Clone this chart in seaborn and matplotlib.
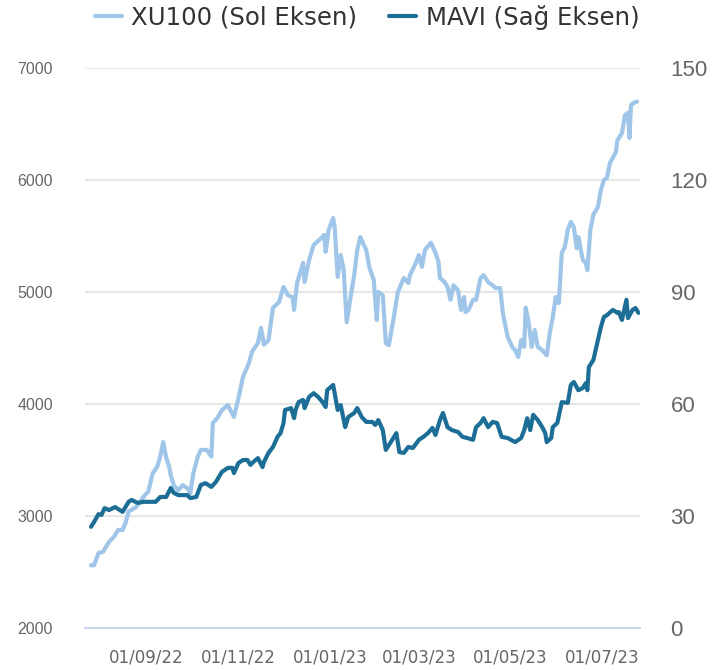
import matplotlib
matplotlib.use("Agg")
import matplotlib.pyplot as plt
import matplotlib.dates as mdates
from matplotlib import font_manager
import pandas as pd
import seaborn as sns

# ----------------------------------------------------------------------
# Data
# ----------------------------------------------------------------------
xu100_dates = [
    "2022-07-26", "2022-07-28", "2022-07-31", "2022-08-03", "2022-08-07", "2022-08-10",
    "2022-08-13", "2022-08-16", "2022-08-18", "2022-08-20", "2022-08-25", "2022-08-31",
    "2022-09-02", "2022-09-05", "2022-09-08", "2022-09-10", "2022-09-12", "2022-09-14",
    "2022-09-16", "2022-09-17", "2022-09-19", "2022-09-22", "2022-09-25", "2022-09-28",
    "2022-09-30", "2022-10-02", "2022-10-05", "2022-10-07", "2022-10-11", "2022-10-14",
    "2022-10-15", "2022-10-18", "2022-10-21", "2022-10-25", "2022-10-29", "2022-11-01",
    "2022-11-04", "2022-11-08", "2022-11-10", "2022-11-14", "2022-11-16", "2022-11-18",
    "2022-11-21", "2022-11-24", "2022-11-28", "2022-12-01", "2022-12-04", "2022-12-07",
    "2022-12-08", "2022-12-10", "2022-12-14", "2022-12-15", "2022-12-18", "2022-12-21",
    "2022-12-26", "2022-12-28", "2022-12-29", "2022-12-31", "2023-01-03", "2023-01-04",
    "2023-01-06", "2023-01-08", "2023-01-10", "2023-01-12", "2023-01-15", "2023-01-17",
    "2023-01-19", "2023-01-21", "2023-01-25", "2023-01-27", "2023-01-30", "2023-02-01",
    "2023-02-02", "2023-02-05", "2023-02-07", "2023-02-09", "2023-02-12", "2023-02-15",
    "2023-02-19", "2023-02-22", "2023-02-23", "2023-02-27", "2023-03-01", "2023-03-03",
    "2023-03-05", "2023-03-09", "2023-03-12", "2023-03-14", "2023-03-15", "2023-03-18",
    "2023-03-20", "2023-03-22", "2023-03-24", "2023-03-27", "2023-03-29", "2023-03-31",
    "2023-04-01", "2023-04-03", "2023-04-06", "2023-04-08", "2023-04-11", "2023-04-13",
    "2023-04-16", "2023-04-19", "2023-04-21", "2023-04-24", "2023-04-26", "2023-04-29",
    "2023-05-02", "2023-05-04", "2023-05-06", "2023-05-08", "2023-05-10", "2023-05-11",
    "2023-05-13", "2023-05-15", "2023-05-17", "2023-05-19", "2023-05-22", "2023-05-25",
    "2023-05-27", "2023-05-29", "2023-05-31", "2023-06-02", "2023-06-04", "2023-06-06",
    "2023-06-08", "2023-06-10", "2023-06-12", "2023-06-14", "2023-06-15", "2023-06-18",
    "2023-06-20", "2023-06-21", "2023-06-23", "2023-06-25", "2023-06-28", "2023-06-30",
    "2023-07-02", "2023-07-04", "2023-07-06", "2023-07-10", "2023-07-11", "2023-07-14",
    "2023-07-16", "2023-07-18", "2023-07-19", "2023-07-20", "2023-07-22", "2023-07-24",
]
xu100_values = [
    2560, 2560, 2670, 2680, 2770, 2810,
    2875, 2875, 2940, 3040, 3080, 3190,
    3215, 3380, 3440, 3530, 3660, 3520,
    3440, 3365, 3275, 3230, 3275, 3250,
    3205, 3380, 3530, 3590, 3590, 3530,
    3830, 3875, 3945, 3990, 3885, 4050,
    4240, 4365, 4465, 4545, 4680, 4530,
    4570, 4860, 4910, 5045, 4970, 4955,
    4840, 5080, 5260, 5090, 5285, 5420,
    5480, 5510, 5360, 5555, 5660, 5580,
    5135, 5330, 5195, 4730, 4990, 5150,
    5375, 5490, 5375, 5225, 5105, 4750,
    5000, 4970, 4545, 4525, 4750, 5000,
    5125, 5080, 5150, 5260, 5330, 5225,
    5375, 5440, 5350, 5270, 5125, 5090,
    5045, 4930, 5060, 5015, 4840, 4955,
    4820, 4840, 4930, 4930, 5125, 5150,
    5090, 5060, 5035, 5035, 4795, 4600,
    4510, 4480, 4420, 4570, 4510, 4860,
    4725, 4510, 4660, 4510, 4480, 4435,
    4635, 4775, 4955, 4900, 5350, 5400,
    5555, 5625, 5580, 5390, 5490, 5285,
    5260, 5195, 5555, 5690, 5760, 5910,
    6000, 6020, 6150, 6250, 6355, 6420,
    6580, 6600, 6375, 6670, 6690, 6700,
]

mavi_dates = [
    "2022-07-26", "2022-07-28", "2022-07-31", "2022-08-02", "2022-08-04", "2022-08-07",
    "2022-08-11", "2022-08-14", "2022-08-16", "2022-08-20", "2022-08-22", "2022-08-26",
    "2022-08-30", "2022-09-04", "2022-09-07", "2022-09-10", "2022-09-14", "2022-09-17",
    "2022-09-19", "2022-09-22", "2022-09-25", "2022-09-28", "2022-09-30", "2022-10-04",
    "2022-10-07", "2022-10-10", "2022-10-14", "2022-10-17", "2022-10-21", "2022-10-25",
    "2022-10-28", "2022-10-29", "2022-11-01", "2022-11-04", "2022-11-07", "2022-11-09",
    "2022-11-11", "2022-11-14", "2022-11-17", "2022-11-18", "2022-11-21", "2022-11-24",
    "2022-11-27", "2022-11-29", "2022-12-01", "2022-12-02", "2022-12-06", "2022-12-08",
    "2022-12-09", "2022-12-11", "2022-12-14", "2022-12-15", "2022-12-18", "2022-12-21",
    "2022-12-24", "2022-12-27", "2022-12-29", "2022-12-30", "2023-01-03", "2023-01-04",
    "2023-01-06", "2023-01-08", "2023-01-11", "2023-01-13", "2023-01-17", "2023-01-19",
    "2023-01-22", "2023-01-25", "2023-01-29", "2023-01-31", "2023-02-02", "2023-02-05",
    "2023-02-07", "2023-02-10", "2023-02-14", "2023-02-16", "2023-02-19", "2023-02-22",
    "2023-02-25", "2023-03-01", "2023-03-04", "2023-03-07", "2023-03-10", "2023-03-12",
    "2023-03-15", "2023-03-17", "2023-03-20", "2023-03-23", "2023-03-27", "2023-03-30",
    "2023-04-02", "2023-04-06", "2023-04-08", "2023-04-11", "2023-04-13", "2023-04-16",
    "2023-04-19", "2023-04-22", "2023-04-25", "2023-04-29", "2023-05-04", "2023-05-08",
    "2023-05-10", "2023-05-12", "2023-05-14", "2023-05-16", "2023-05-19", "2023-05-22",
    "2023-05-24", "2023-05-25", "2023-05-28", "2023-05-29", "2023-06-01", "2023-06-04",
    "2023-06-08", "2023-06-10", "2023-06-12", "2023-06-15", "2023-06-18", "2023-06-20",
    "2023-06-21", "2023-06-22", "2023-06-25", "2023-06-28", "2023-06-30", "2023-07-02",
    "2023-07-04", "2023-07-08", "2023-07-11", "2023-07-12", "2023-07-14", "2023-07-17",
    "2023-07-18", "2023-07-21", "2023-07-23", "2023-07-25",
]
mavi_values = [
    27.1, 28.4, 30.5, 30.3, 32.1, 31.6,
    32.4, 31.6, 31.1, 33.8, 34.3, 33.5,
    33.8, 33.8, 33.8, 35.1, 35.1, 37.5,
    36.2, 35.6, 35.6, 35.6, 34.8, 35.1,
    38.3, 38.8, 37.8, 39.1, 41.8, 42.9,
    42.9, 41.5, 44.2, 45.0, 45.0, 43.7,
    44.5, 45.5, 43.1, 44.5, 46.9, 48.5,
    51.2, 52.2, 54.9, 58.4, 58.9, 56.2,
    58.4, 60.5, 61.1, 58.9, 61.9, 62.9,
    61.9, 60.5, 59.2, 63.7, 65.1, 62.9,
    58.4, 59.7, 53.8, 56.5, 57.6, 58.9,
    56.5, 55.2, 55.2, 54.4, 55.7, 53.0,
    47.7, 49.6, 52.2, 47.1, 46.9, 48.5,
    48.2, 50.4, 51.2, 52.2, 53.6, 51.7,
    55.7, 57.6, 53.8, 53.0, 52.5, 51.2,
    50.9, 50.4, 53.8, 54.9, 56.2, 53.8,
    55.2, 54.9, 51.2, 50.9, 49.8, 50.9,
    53.0, 56.2, 53.0, 57.1, 55.7, 53.8,
    52.2, 49.8, 50.9, 53.8, 54.9, 60.5,
    60.3, 65.1, 65.9, 63.7, 64.3, 65.6,
    63.7, 69.9, 71.8, 77.1, 80.6, 83.3,
    83.8, 85.2, 84.4, 84.6, 82.5, 87.9,
    83.0, 85.2, 85.7, 84.4,
]

x_tick_dates = ["2022-09-01", "2022-11-01", "2023-01-01", "2023-03-01", "2023-05-01", "2023-07-01"]
left_ticks = [2000, 3000, 4000, 5000, 6000, 7000]
right_ticks = [0, 30, 60, 90, 120, 150]

legend_labels = ["XU100 (Sol Eksen)", "MAVI (Sağ Eksen)"]
XU_COLOR = "#9fc5e8"
MAVI_COLOR = "#1d6e96"

# ----------------------------------------------------------------------
# Style
# ----------------------------------------------------------------------
sns.set_style("white")
installed = {f.name for f in font_manager.fontManager.ttflist}
BASE_FONT = "Liberation Sans" if "Liberation Sans" in installed else "DejaVu Sans"
if "Liberation Sans Narrow" in installed:
    LEGEND_FONT, LEGEND_SIZE = "Liberation Sans Narrow", 22
else:
    LEGEND_FONT, LEGEND_SIZE = "DejaVu Sans", 17.6
plt.rcParams["font.family"] = [BASE_FONT, "DejaVu Sans"]

xu_df = pd.DataFrame({"date": pd.to_datetime(xu100_dates), "value": xu100_values})
mavi_df = pd.DataFrame({"date": pd.to_datetime(mavi_dates), "value": mavi_values})

fig = plt.figure(figsize=(7.27, 6.70), dpi=100)
ax = fig.add_axes([85 / 727, 1 - 628 / 670, 555 / 727, 560 / 670])
ax2 = ax.twinx()

line_kw = dict(linewidth=3.0, solid_joinstyle="round", solid_capstyle="round", legend=False)
sns.lineplot(data=xu_df, x="date", y="value", ax=ax, color=XU_COLOR,
             label=legend_labels[0], **line_kw)
sns.lineplot(data=mavi_df, x="date", y="value", ax=ax2, color=MAVI_COLOR,
             label=legend_labels[1], **line_kw)

ax.set_xlim(pd.Timestamp("2022-07-22"), pd.Timestamp("2023-07-26"))
ax.set_ylim(left_ticks[0], left_ticks[-1])
ax2.set_ylim(right_ticks[0], right_ticks[-1])

ax.set_yticks(left_ticks)
ax2.set_yticks(right_ticks)
ax.set_xticks(pd.to_datetime(x_tick_dates))
ax.xaxis.set_major_formatter(mdates.DateFormatter("%d/%m/%y"))

ax.grid(axis="y", color="#e6e6e6", linewidth=1.5)
ax.set_axisbelow(True)
for a in (ax, ax2):
    for side in ("top", "left", "right", "bottom"):
        a.spines[side].set_visible(False)
    a.set_xlabel("")
    a.set_ylabel("")
ax.spines["bottom"].set_visible(True)
ax.spines["bottom"].set_color("#ccd6eb")
ax.spines["bottom"].set_linewidth(1.5)

ax.tick_params(axis="x", length=13, width=1.5, color="#ccd6eb", pad=2,
               labelsize=12, labelcolor="#666666")
for lbl in ax.get_xticklabels():
    lbl.set_fontfamily("DejaVu Sans")
ax.tick_params(axis="y", length=0, pad=23, labelsize=11.5, labelcolor="#666666")
ax2.tick_params(axis="y", length=0, pad=22, labelsize=16, labelcolor="#666666")

handles = ax.get_lines()[:1] + ax2.get_lines()[:1]
fig.legend(handles, legend_labels, loc="center", bbox_to_anchor=(0.505, 0.974), ncol=2,
           frameon=False, handlelength=1.1, handletextpad=0.4, columnspacing=1.3,
           prop={"family": LEGEND_FONT, "size": LEGEND_SIZE}, labelcolor="#333333")

fig.savefig("out.png", dpi=100)
